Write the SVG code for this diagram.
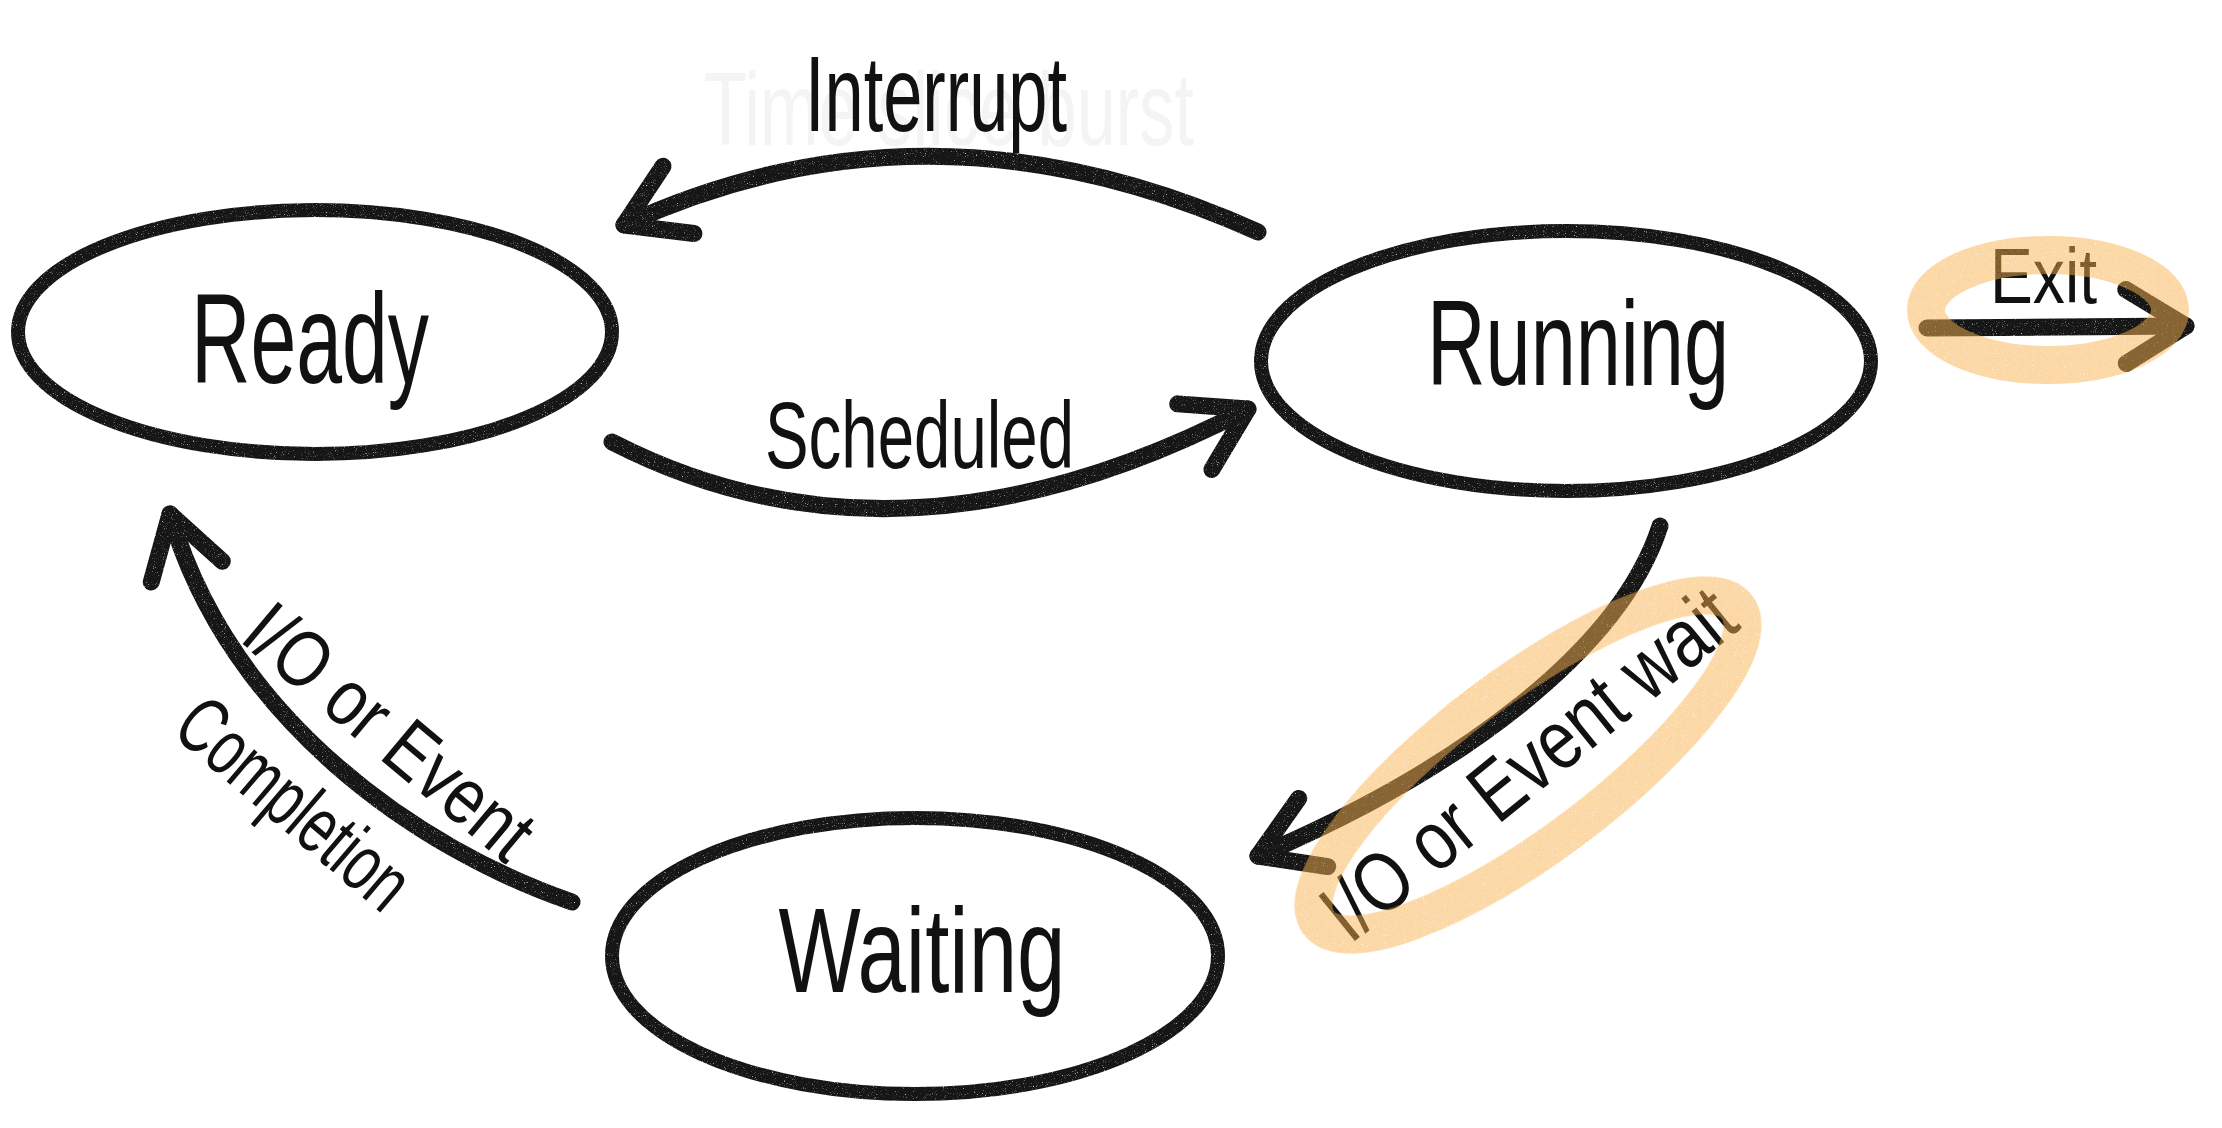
<svg xmlns="http://www.w3.org/2000/svg" width="2222" height="1128" viewBox="0 0 2222 1128">
<defs>
<style>
.ring{fill:none;stroke:#141414;stroke-width:14;filter:url(#chalk)}
.edge{fill:none;stroke:#141414;stroke-width:17;stroke-linecap:round;stroke-linejoin:round;filter:url(#chalk);marker-end:url(#chev)}
.txt{font-family:"Liberation Sans",Arial,sans-serif;fill:#111}
.node-label{text-anchor:middle}
.ghost{fill:#f4f4f4}
.hl{fill:none;stroke:#f9b14d;stroke-opacity:0.5;stroke-width:38}
.hlg{filter:url(#chalk)}
</style>
<filter id="chalk" filterUnits="userSpaceOnUse" x="0" y="0" width="2222" height="1128">
<feTurbulence type="fractalNoise" baseFrequency="0.9" numOctaves="2" seed="3" result="noise"/>
<feColorMatrix in="noise" type="matrix" values="0 0 0 0 0  0 0 0 0 0  0 0 0 0 0  0 0 0 -3 2.9" result="mask"/>
<feComposite in="SourceGraphic" in2="mask" operator="in" result="c"/>
<feGaussianBlur in="c" stdDeviation="0.7"/>
</filter>
<marker id="chev" markerUnits="userSpaceOnUse" viewBox="-80 -60 100 120" markerWidth="100" markerHeight="120" refX="0" refY="0" orient="auto" overflow="visible">
<path d="M-60,-37 L0,0 L-60,37" fill="none" stroke="#141414" stroke-width="17" stroke-linecap="round" stroke-linejoin="round"/>
</marker>
</defs>
<rect width="2222" height="1128" fill="#ffffff"/>

<g id="edge-labels">
<text class="txt ghost" x="704" y="145" font-size="104" textLength="490" lengthAdjust="spacingAndGlyphs">Time slice burst</text>
<text class="txt" x="805" y="131" font-size="108" textLength="262" lengthAdjust="spacingAndGlyphs">Interrupt</text>
<text class="txt" x="765" y="468" font-size="94" textLength="309" lengthAdjust="spacingAndGlyphs">Scheduled</text>
<text class="txt" x="1990" y="303" font-size="78" textLength="107" lengthAdjust="spacingAndGlyphs">Exit</text>
<text class="txt" font-size="84" transform="translate(1350,945) rotate(-39)" textLength="505" lengthAdjust="spacingAndGlyphs">I/O or Event wait</text>
<text class="txt" font-size="80" transform="translate(238,640) rotate(40)" textLength="350" lengthAdjust="spacingAndGlyphs">I/O or Event</text>
<text class="txt" font-size="80" transform="translate(170,733) rotate(40.5)" textLength="280" lengthAdjust="spacingAndGlyphs">Completion</text>
</g>

<g id="connectors">
<path id="e-interrupt" class="edge" d="M1258,232 Q930,84 624,225"/>
<path id="e-scheduled" class="edge" d="M612,442 Q900,590 1248,409"/>
<path id="e-exit" class="edge" d="M1927,328 L2186,326"/>
<path id="e-iowait" class="edge" d="M1660,526 C1620,650 1460,770 1258,856"/>
<path id="e-iodone" class="edge" d="M572,902 C420,850 230,720 170,514"/>
</g>

<g id="node-ready">
<ellipse class="ring" cx="315" cy="332" rx="297" ry="122"/>
<text class="txt node-label" x="310" y="383" font-size="128" textLength="238" lengthAdjust="spacingAndGlyphs">Ready</text>
</g>
<g id="node-running">
<ellipse class="ring" cx="1566" cy="361" rx="305" ry="130"/>
<text class="txt node-label" x="1578" y="385" font-size="120" textLength="302" lengthAdjust="spacingAndGlyphs">Running</text>
</g>
<g id="node-waiting">
<ellipse class="ring" cx="915" cy="956" rx="303" ry="138"/>
<text class="txt node-label" x="922" y="992" font-size="120" textLength="287" lengthAdjust="spacingAndGlyphs">Waiting</text>
</g>

<g id="highlights" class="hlg">
<ellipse class="hl" cx="2048" cy="310" rx="122" ry="55"/>
<ellipse class="hl" cx="0" cy="0" rx="262" ry="78" transform="translate(1528,765) rotate(-37)"/>
</g>
</svg>
